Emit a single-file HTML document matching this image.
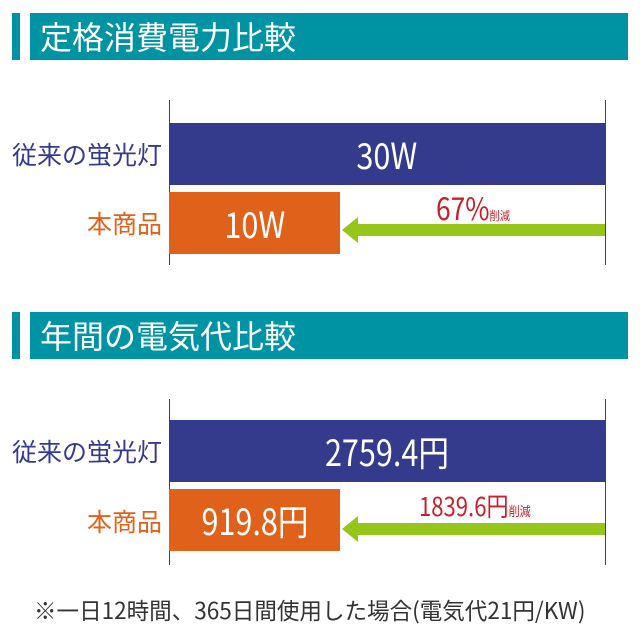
<!DOCTYPE html>
<html><head><meta charset="utf-8"><style>
body{margin:0;width:640px;height:640px;background:#fff;position:relative;overflow:hidden;font-family:"Liberation Sans","Noto Sans CJK JP",sans-serif}
div{position:absolute;box-sizing:border-box}
.strip{background:#0093a3;width:8px}
.hdr{background:#0093a3;color:#fff;font-family:"Noto Sans CJK JP",sans-serif;font-size:32px;line-height:46px;padding-left:10px;left:30px;width:598px;height:47px}
.vl{width:1px;background:#444}
.blue{background:#343a8c;color:#fff;left:169px;width:436px;height:62px;text-align:center;line-height:62px;font-family:"Noto Sans CJK JP",sans-serif;font-size:36px}
.orange{background:#e0621a;color:#fff;left:169px;width:171px;height:62px;text-align:center;line-height:62px;font-family:"Noto Sans CJK JP",sans-serif;font-size:36px}
.c{display:inline-block;transform:scaleX(0.85)}
.lbl{font-family:"Noto Sans CJK JP",sans-serif;font-size:25px;text-align:right;width:162px;left:0;line-height:30px}
.arr{background:#97c61b;height:12px;left:356px;width:249px}
.head{width:0;height:0;border-top:13px solid transparent;border-bottom:13px solid transparent;border-right:16px solid #97c61b;left:342px}
.red{color:#c8202b;font-family:"Noto Sans CJK JP",sans-serif}
</style></head><body>
<div class="strip" style="left:12px;top:13px;height:47px"></div>
<div class="hdr" style="top:13px">定格消費電力比較</div>
<div class="vl" style="left:169px;top:100px;height:165px"></div>
<div class="vl" style="left:605px;top:100px;height:165px"></div>
<div class="blue" style="top:123px"><span class="c">30W</span></div>
<div class="orange" style="top:192px"><span class="c">10W</span></div>
<div class="lbl" style="top:139px;color:#343a8c">従来の蛍光灯</div>
<div class="lbl" style="top:208px;color:#e0621a">本商品</div>
<div class="arr" style="top:224px"></div>
<div class="head" style="top:217px"></div>
<div class="red" style="left:436px;top:188px;font-size:31px;line-height:38px"><span class="c" style="transform-origin:left">67%<span style="font-size:12px">削減</span></span></div>

<div class="strip" style="left:12px;top:312px;height:47px"></div>
<div class="hdr" style="top:312px">年間の電気代比較</div>
<div class="vl" style="left:169px;top:399px;height:166px"></div>
<div class="vl" style="left:605px;top:399px;height:166px"></div>
<div class="blue" style="top:420px"><span class="c">2759.4円</span></div>
<div class="orange" style="top:489px"><span class="c">919.8円</span></div>
<div class="lbl" style="top:436px;color:#343a8c">従来の蛍光灯</div>
<div class="lbl" style="top:506px;color:#e0621a">本商品</div>
<div class="arr" style="top:523px"></div>
<div class="head" style="top:516px"></div>
<div class="red" style="left:419px;top:490px;font-size:26px;line-height:32px"><span class="c" style="transform-origin:left">1839.6円<span style="font-size:13px">削減</span></span></div>

<div style="left:34px;top:594px;font-family:'Noto Sans CJK JP',sans-serif;font-size:23px;color:#333;line-height:30px;white-space:nowrap"><span class="c" style="transform-origin:left;transform:scaleX(0.98)">※一日12時間、365日間使用した場合(電気代21円/KW)</span></div>
</body></html>
